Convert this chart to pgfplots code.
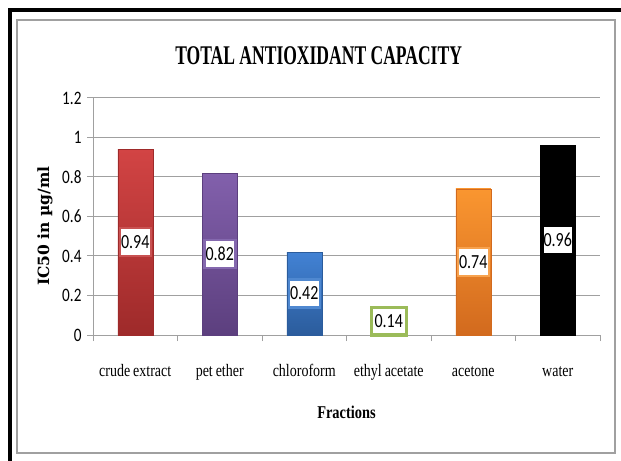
\documentclass[border=0pt]{standalone}
\usepackage{fontspec}
\setmainfont{Liberation Serif}
\newfontfamily\titlefont{Liberation Serif}[FakeStretch=0.65]
\newfontfamily\catfont{Liberation Serif}[FakeStretch=0.8]
\newfontfamily\numfont{Carlito}[FakeStretch=0.8]
\newfontfamily\labfont{DejaVu Serif}
\usepackage{pgfplots}
\pgfplotsset{compat=1.18}

\definecolor{gridgray}{HTML}{A0A0A0}
\definecolor{redtop}{HTML}{D24444}
\definecolor{redbot}{HTML}{9E2A2A}
\definecolor{redlab}{HTML}{C85252}
\definecolor{purtop}{HTML}{8260AC}
\definecolor{purbot}{HTML}{5C3F7E}
\definecolor{purlab}{HTML}{8468AE}
\definecolor{blutop}{HTML}{4282D4}
\definecolor{blubot}{HTML}{2B5C9C}
\definecolor{blulab}{HTML}{4F88D0}
\definecolor{grnedge}{HTML}{9BBB59}
\definecolor{orgtop}{HTML}{FA9630}
\definecolor{orgbot}{HTML}{D26A1E}
\definecolor{orglab}{HTML}{F7A24E}

% value box placed halfway up each bar
\pgfplotsset{
  barlabel/.style={
    nodes near coords={\pgfmathprintnumber[fixed,fixed zerofill,precision=2]{\pgfplotspointmeta}},
    point meta=rawy,
    visualization depends on={rawy \as \rawy},
    nodes near coords style={anchor=center,
      shift={(axis direction cs:0,-\rawy/2)},
      fill=white, draw=#1, line width=2.5bp,
      minimum width=31bp, minimum height=28bp, inner sep=1bp,
      font=\numfont\fontsize{20bp}{20bp}\selectfont, text=black},
  },
}

\begin{document}
\begin{tikzpicture}
\useasboundingbox (0,0) rectangle (621bp,461bp);
\fill[white] (0,0) rectangle (621bp,461bp);
\draw[black, line width=4bp] (10bp,-10bp) -- (10bp,451bp) -- (630bp,451bp);
\draw[gridgray, line width=1.5bp] (17bp,8bp) rectangle (615bp,441bp);
\begin{axis}[
  at={(93bp,126bp)}, anchor=south west,
  scale only axis, width=507bp, height=237bp,
  /pgf/number format/assume math mode=true,
  ybar, bar width=35bp, bar shift=0pt,
  xmin=-0.5, xmax=5.5, ymin=0, ymax=1.2,
  axis lines=left, axis line style={-, gridgray, line width=1bp},
  ytick={0,0.2,...,1.2},
  yticklabels={0,0.2,0.4,0.6,0.8,1,1.2},
  ymajorgrids, grid style={gridgray, line width=1bp},
  xtick={0,...,5},
  xticklabels={crude\,extract, pet\,ether, chloroform, ethyl\,acetate, acetone, water},
  minor xtick={-0.5,0.5,...,5.5},
  major x tick style={draw=none},
  minor x tick style={gridgray, line width=1bp},
  y tick style={gridgray, line width=1bp},
  tick align=outside, major tick length=6bp, minor tick length=6bp,
  xticklabel style={font=\catfont\fontsize{17.5bp}{17.5bp}\selectfont, anchor=base, yshift=-35bp},
  yticklabel style={font=\numfont\fontsize{19bp}{19bp}\selectfont, xshift=-2bp},
  every axis y label/.style={at={(axis description cs:-0.095,0.46)}, rotate=90, anchor=center},
  ylabel={\labfont\bfseries\fontsize{15.5bp}{15.5bp}\selectfont IC50 in µg/ml},
  every axis x label/.style={at={(axis description cs:0.5,0)}, anchor=base, yshift=-83bp},
  xlabel={\catfont\bfseries\fontsize{18bp}{18bp}\selectfont Fractions},
  every axis title/.style={at={(axis description cs:0.445,1)}, anchor=base, yshift=33bp},
  title={\titlefont\bfseries\fontsize{27bp}{27bp}\selectfont TOTAL ANTIOXIDANT CAPACITY},
  clip=false,
]
\addplot[draw=redbot, top color=redtop, bottom color=redbot, barlabel=redlab] coordinates {(0,0.94)};
\addplot[draw=purbot, top color=purtop, bottom color=purbot, barlabel=purlab] coordinates {(1,0.82)};
\addplot[draw=blubot, top color=blutop, bottom color=blubot, barlabel=blulab] coordinates {(2,0.42)};
\addplot[draw=grnedge, line width=3bp, fill=white, barlabel=white,
  nodes near coords style={draw=none, minimum height=18bp, fill=none}] coordinates {(3,0.14)};
\addplot[draw=orgbot, top color=orgtop, bottom color=orgbot, barlabel=orglab] coordinates {(4,0.74)};
\addplot[draw=black, fill=black, barlabel=black] coordinates {(5,0.96)};
\end{axis}
\end{tikzpicture}
\end{document}
